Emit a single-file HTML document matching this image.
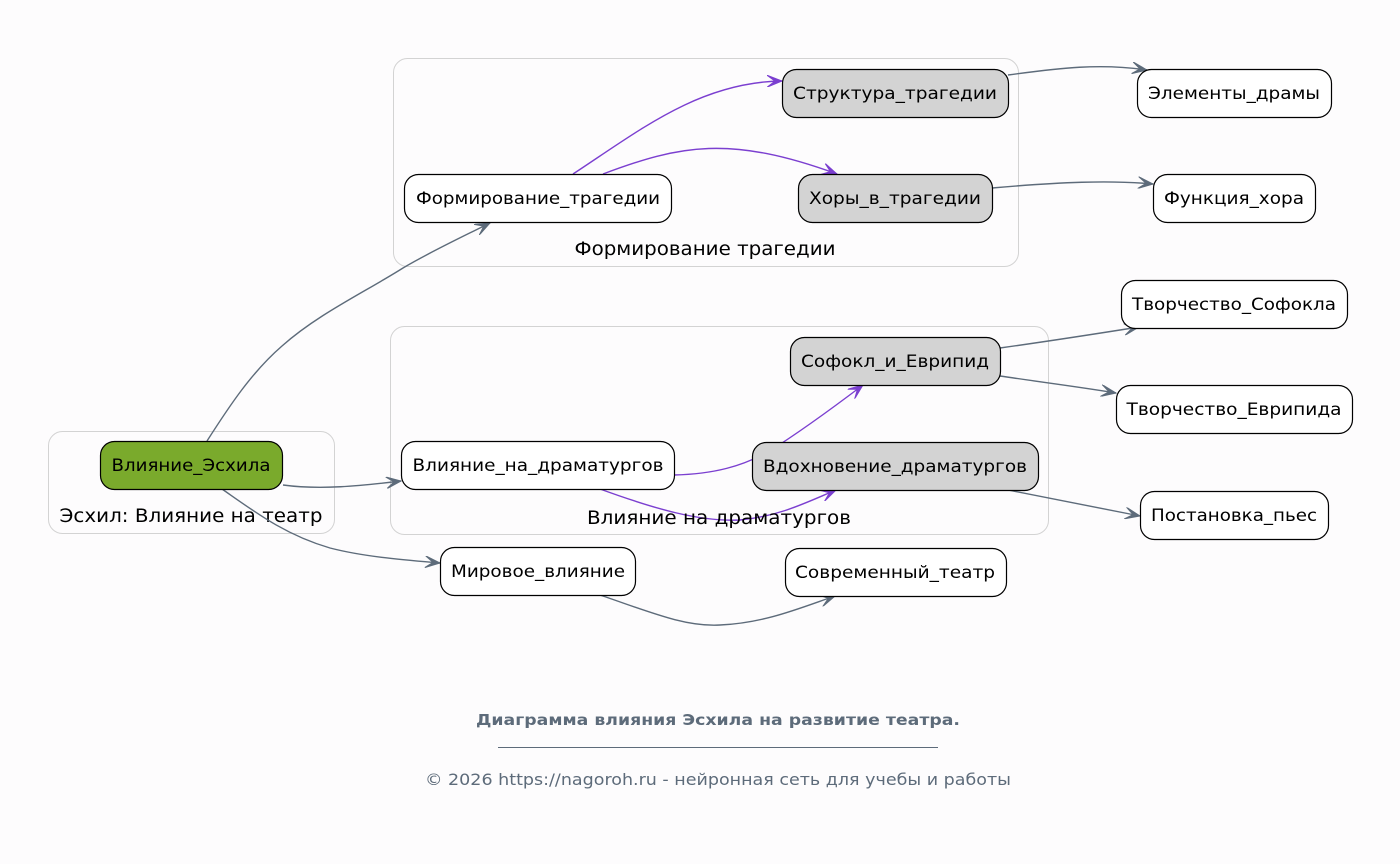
<!DOCTYPE html>
<html>
<head>
<meta charset="utf-8">
<style>
html,body{margin:0;padding:0;background:#fdfcfd;}
svg{display:block;}
text{font-family:"DejaVu Sans","Liberation Sans","Noto Sans CJK SC",sans-serif;}
</style>
</head>
<body>
<svg width="1400" height="864" viewBox="0 0 1400 864" xmlns="http://www.w3.org/2000/svg">
<defs>
<marker id="ag" markerWidth="16" markerHeight="12" refX="15" refY="6" orient="auto" markerUnits="userSpaceOnUse">
<path d="M0,0 L15,6 L0,12 L8,6 z" fill="#5d6b7a" stroke="#5d6b7a" stroke-width="1" stroke-linejoin="miter"/>
</marker>
<marker id="ap" markerWidth="16" markerHeight="12" refX="15" refY="6" orient="auto" markerUnits="userSpaceOnUse">
<path d="M0,0 L15,6 L0,12 L8,6 z" fill="#7b3fd0" stroke="#7b3fd0" stroke-width="1"/>
</marker>
</defs>
<rect width="1400" height="864" fill="#fdfcfd"/>

<!-- clusters -->
<rect x="393.5" y="58.5" width="625" height="208" rx="14" fill="none" stroke="#d3d3d3" stroke-width="1"/>
<text x="705" y="255" font-size="18.5" text-anchor="middle" textLength="261" lengthAdjust="spacingAndGlyphs" fill="#000">Формирование трагедии</text>

<rect x="390.5" y="326.5" width="658" height="208" rx="14" fill="none" stroke="#d3d3d3" stroke-width="1"/>

<rect x="48.5" y="431.5" width="286" height="102" rx="14" fill="none" stroke="#d3d3d3" stroke-width="1"/>
<text x="191" y="522" font-size="18.5" text-anchor="middle" textLength="263" lengthAdjust="spacingAndGlyphs" fill="#000">Эсхил: Влияние на театр</text>

<!-- edges gray -->
<g fill="none" stroke="#5d6b7a" stroke-width="1.4">
<path d="M207,441 C230,405 252,372 282,346 C318,314 365,292 403,268 C430,252 460,238 490,223" marker-end="url(#ag)"/>
<path d="M283,485 C320,490 360,486 401,481" marker-end="url(#ag)"/>
<path d="M222,489 C255,512 285,535 330,548 C365,557 405,560 440,563" marker-end="url(#ag)"/>
<path d="M1008,75 C1060,68 1100,63 1147,70" marker-end="url(#ag)"/>
<path d="M992,188 C1060,182 1110,180 1153,184" marker-end="url(#ag)"/>
<path d="M1000,348 C1050,341 1095,334 1139,327" marker-end="url(#ag)"/>
<path d="M1000,376 C1040,382 1080,387 1116,393" marker-end="url(#ag)"/>
<path d="M1008,490 C1055,499 1100,508 1140,516" marker-end="url(#ag)"/>
<path d="M600,595 C650,612 685,627 720,625 C765,623 800,608 835,596" marker-end="url(#ag)"/>
</g>

<!-- edges purple -->
<g fill="none" stroke="#7b3fd0" stroke-width="1.4">
<path d="M573,174 C640,130 700,82 782,81" marker-end="url(#ap)"/>
<path d="M603,174 C680,145 730,135 837,174" marker-end="url(#ap)"/>
<path d="M674,475 C715,474 742,466 768,452 C800,432 830,410 863,385" marker-end="url(#ap)"/>
<path d="M600,489 C655,509 700,522 740,520 C780,516 805,503 836,490" marker-end="url(#ap)"/>
</g>

<text x="719" y="524" font-size="18.5" text-anchor="middle" textLength="264" lengthAdjust="spacingAndGlyphs" fill="#000">Влияние на драматургов</text>

<!-- nodes -->
<g stroke="#000" stroke-width="1.2">
<rect x="782.5" y="69.5" width="226" height="48" rx="14" fill="#d3d3d3"/>
<rect x="1137.5" y="69.5" width="194" height="48" rx="14" fill="#fff"/>
<rect x="404.5" y="174.5" width="267" height="48" rx="14" fill="#fff"/>
<rect x="798.5" y="174.5" width="194" height="48" rx="14" fill="#d3d3d3"/>
<rect x="1153.5" y="174.5" width="162" height="48" rx="14" fill="#fff"/>
<rect x="1121.5" y="280.5" width="226" height="48" rx="14" fill="#fff"/>
<rect x="790.5" y="337.5" width="210" height="48" rx="14" fill="#d3d3d3"/>
<rect x="1116.5" y="385.5" width="236" height="48" rx="14" fill="#fff"/>
<rect x="100.5" y="441.5" width="182" height="48" rx="14" fill="#7aaa2c"/>
<rect x="401.5" y="441.5" width="273" height="48" rx="14" fill="#fff"/>
<rect x="752.5" y="442.5" width="286" height="48" rx="14" fill="#d3d3d3"/>
<rect x="1140.5" y="491.5" width="188" height="48" rx="14" fill="#fff"/>
<rect x="440.5" y="547.5" width="195" height="48" rx="14" fill="#fff"/>
<rect x="785.5" y="548.5" width="221" height="48" rx="14" fill="#fff"/>
</g>

<g font-size="17" fill="#000" text-anchor="middle">
<text x="895" y="99" textLength="204" lengthAdjust="spacingAndGlyphs">Структура_трагедии</text>
<text x="1234" y="99" textLength="172" lengthAdjust="spacingAndGlyphs">Элементы_драмы</text>
<text x="538" y="204" textLength="244" lengthAdjust="spacingAndGlyphs">Формирование_трагедии</text>
<text x="895" y="204" textLength="172" lengthAdjust="spacingAndGlyphs">Хоры_в_трагедии</text>
<text x="1234" y="204" textLength="140" lengthAdjust="spacingAndGlyphs">Функция_хора</text>
<text x="1234" y="310" textLength="204" lengthAdjust="spacingAndGlyphs">Творчество_Софокла</text>
<text x="895" y="367" textLength="188" lengthAdjust="spacingAndGlyphs">Софокл_и_Еврипид</text>
<text x="1234" y="415" textLength="215" lengthAdjust="spacingAndGlyphs">Творчество_Еврипида</text>
<text x="191" y="471" textLength="159" lengthAdjust="spacingAndGlyphs">Влияние_Эсхила</text>
<text x="538" y="471" textLength="251" lengthAdjust="spacingAndGlyphs">Влияние_на_драматургов</text>
<text x="895" y="472" textLength="264" lengthAdjust="spacingAndGlyphs">Вдохновение_драматургов</text>
<text x="1234" y="521" textLength="166" lengthAdjust="spacingAndGlyphs">Постановка_пьес</text>
<text x="538" y="577" textLength="174" lengthAdjust="spacingAndGlyphs">Мировое_влияние</text>
<text x="895" y="578" textLength="200" lengthAdjust="spacingAndGlyphs">Современный_театр</text>
</g>

<!-- footer -->
<text x="718" y="725" font-size="15" font-weight="bold" fill="#5d6b7a" text-anchor="middle" textLength="484" lengthAdjust="spacingAndGlyphs">Диаграмма влияния Эсхила на развитие театра.</text>
<line x1="498" y1="747.5" x2="938" y2="747.5" stroke="#5d6b7a" stroke-width="1"/>
<text x="718" y="785" font-size="16" fill="#5d6b7a" text-anchor="middle" textLength="586" lengthAdjust="spacingAndGlyphs">© 2026 https://nagoroh.ru - нейронная сеть для учебы и работы</text>
</svg>
</body>
</html>
